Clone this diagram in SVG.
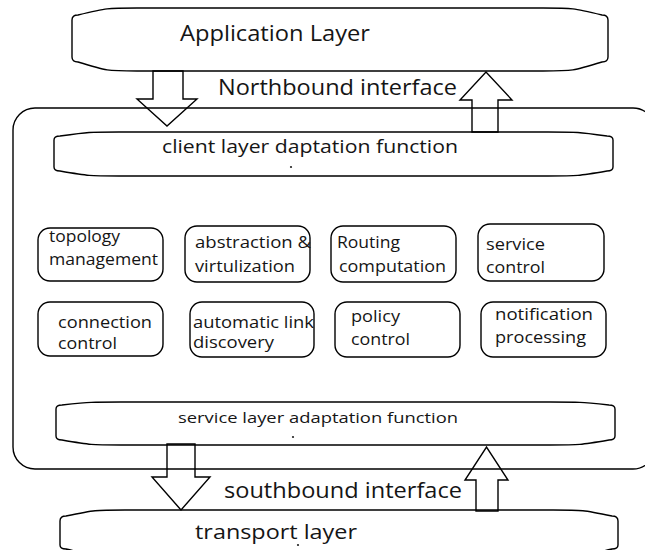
<svg xmlns="http://www.w3.org/2000/svg" width="645" height="550" viewBox="0 0 645 550">
<style>
.box{fill:#fff;stroke:#000;stroke-width:1.4}
.sbox{fill:none;stroke:#000;stroke-width:1.4}
.arr{fill:none;stroke:#000;stroke-width:1.4;stroke-linejoin:miter}
.dot{fill:#222}
text{font-family:"Open Sans","Liberation Sans",sans-serif;fill:#151515}
.big{font-size:22px}
.mid{font-size:21px}
.sm{font-size:16px}
</style>
<rect width="645" height="550" fill="#fff"/>
<g id="controller">
<rect class="box" x="13" y="108" width="642" height="361" rx="22" ry="22"/>
</g>
<g id="application-layer">
<path class="box" d="M72,20 Q72,15 78,15 C107,8 107,8 137,8 L543,8 C573,8 573,8 602,15 Q608,15 608,20 L608,57 Q608,62 602,62 C573,71 573,71 543,71 L137,71 C107,71 107,71 78,62 Q72,62 72,57 Z"/>
<text class="big" x="180" y="41" textLength="190" lengthAdjust="spacingAndGlyphs">Application Layer</text>
</g>
<g id="client-layer">
<path class="box" d="M54,140 Q54,136 60,136 C89,132 89,132 119,132 L548,132 C578,132 578,132 607,136 Q613,136 613,140 L613,167 Q613,171 607,171 C578,176 578,176 548,176 L119,176 C89,176 89,176 60,171 Q54,171 54,167 Z"/>
<text x="162" y="153" font-size="18" textLength="296" lengthAdjust="spacingAndGlyphs">client layer daptation function</text>
<circle class="dot" cx="291" cy="167" r="1.1"/>
</g>
<g id="topology-management">
<rect class="sbox" x="38" y="228" width="125" height="53" rx="12"/>
<text class="sm" x="49" y="242" textLength="71" lengthAdjust="spacingAndGlyphs">topology</text>
<text class="sm" x="49" y="265" textLength="109" lengthAdjust="spacingAndGlyphs">management</text>
</g>
<g id="abstraction-virtulization">
<rect class="sbox" x="185" y="226" width="125" height="56" rx="12"/>
<text class="sm" x="195" y="248" textLength="116" lengthAdjust="spacingAndGlyphs">abstraction &amp;</text>
<text class="sm" x="195" y="272" textLength="100" lengthAdjust="spacingAndGlyphs">virtulization</text>
</g>
<g id="routing-computation">
<rect class="sbox" x="331" y="226" width="125" height="56" rx="12"/>
<text class="sm" x="337" y="248" textLength="63" lengthAdjust="spacingAndGlyphs">Routing</text>
<text class="sm" x="339" y="272" textLength="107" lengthAdjust="spacingAndGlyphs">computation</text>
</g>
<g id="service-control">
<rect class="sbox" x="478" y="224" width="126" height="57" rx="12"/>
<text class="sm" x="486" y="250" textLength="59" lengthAdjust="spacingAndGlyphs">service</text>
<text class="sm" x="486" y="273" textLength="59" lengthAdjust="spacingAndGlyphs">control</text>
</g>
<g id="connection-control">
<rect class="sbox" x="38" y="302" width="125" height="54" rx="12"/>
<text class="sm" x="58" y="328" textLength="94" lengthAdjust="spacingAndGlyphs">connection</text>
<text class="sm" x="58" y="349" textLength="59" lengthAdjust="spacingAndGlyphs">control</text>
</g>
<g id="automatic-link-discovery">
<rect class="sbox" x="190" y="302" width="124" height="55" rx="12"/>
<text class="sm" x="193" y="328" textLength="121" lengthAdjust="spacingAndGlyphs">automatic link</text>
<text class="sm" x="193" y="348" textLength="81" lengthAdjust="spacingAndGlyphs">discovery</text>
</g>
<g id="policy-control">
<rect class="sbox" x="335" y="302" width="125" height="55" rx="12"/>
<text class="sm" x="351" y="322" textLength="49" lengthAdjust="spacingAndGlyphs">policy</text>
<text class="sm" x="351" y="345" textLength="59" lengthAdjust="spacingAndGlyphs">control</text>
</g>
<g id="notification-processing">
<rect class="sbox" x="481" y="302" width="125" height="55" rx="12"/>
<text class="sm" x="495" y="320" textLength="98" lengthAdjust="spacingAndGlyphs">notification</text>
<text class="sm" x="495" y="343" textLength="91" lengthAdjust="spacingAndGlyphs">processing</text>
</g>
<g id="service-layer">
<path class="box" d="M56,409 Q56,405 62,405 C91,402 91,402 121,402 L550,402 C580,402 580,402 609,405 Q615,405 615,409 L615,436 Q615,440 609,440 C580,445 580,445 550,445 L121,445 C91,445 91,445 62,440 Q56,440 56,436 Z"/>
<text x="178" y="423" font-size="14" textLength="280" lengthAdjust="spacingAndGlyphs">service layer adaptation function</text>
<circle class="dot" cx="293" cy="437" r="1.1"/>
</g>
<g id="transport-layer">
<path class="box" d="M60,521 Q60,516 66,516 C95,510 95,510 125,510 L553,510 C583,510 583,510 612,516 Q618,516 618,521 L618,545 Q618,549 612,549 C583,556 583,556 553,556 L125,556 C95,556 95,556 66,549 Q60,549 60,545 Z"/>
<text x="195" y="539" font-size="20" textLength="162" lengthAdjust="spacingAndGlyphs">transport layer</text>
<circle class="dot" cx="298" cy="545" r="1.1"/>
</g>
<g id="connectors">
<polygon class="arr" points="153,71 183,71 183,99 197,99 167,126 137,99 153,99"/>
<polygon class="arr" points="472,132 472,100 460,100 486,72 512,100 498,100 498,132"/>
<polygon class="arr" points="167,444 195,444 195,477 210,477 181,510 152,477 167,477"/>
<polygon class="arr" points="476,511 476,480 465,480 486.5,447 508,480 498,480 498,511"/>
<text class="mid" x="218" y="95" textLength="239" lengthAdjust="spacingAndGlyphs">Northbound interface</text>
<text class="mid" x="224" y="498" textLength="238" lengthAdjust="spacingAndGlyphs">southbound interface</text>
</g>
</svg>
